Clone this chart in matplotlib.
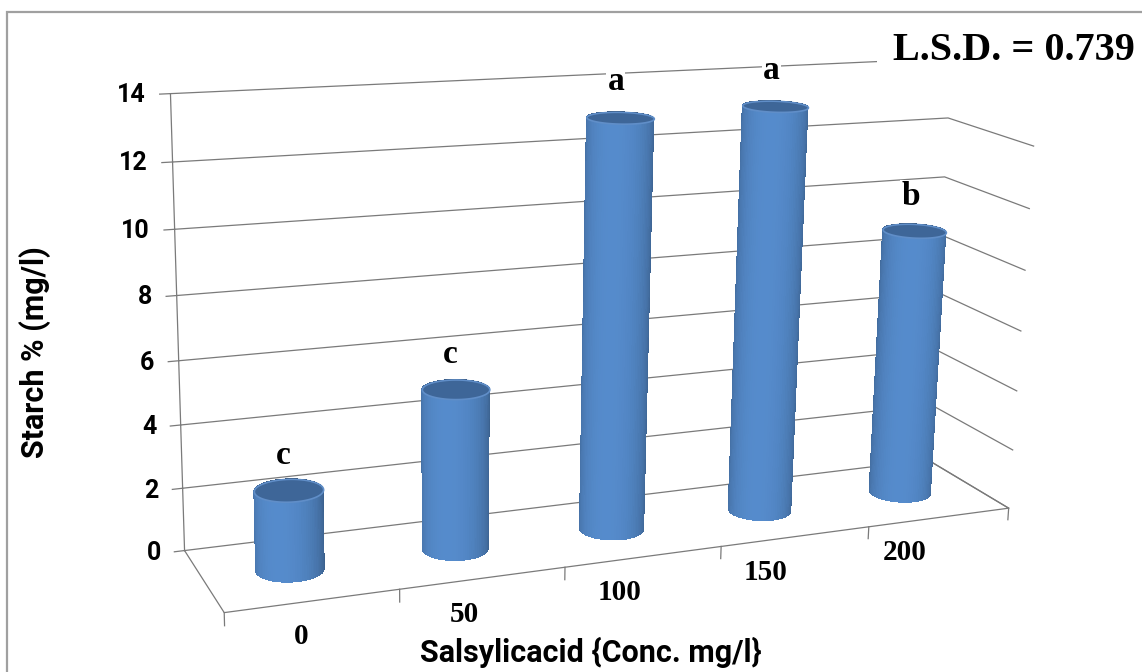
import numpy as np
import matplotlib
matplotlib.use("Agg")
import matplotlib.pyplot as plt
from matplotlib.patches import Rectangle
from mpl_toolkits.mplot3d.art3d import Poly3DCollection

# ---- data -------------------------------------------------------------
concentrations = ["0", "50", "100", "150", "200"]
starch = [2.5, 5.1, 13.1, 13.2, 8.9]
letters = ["c", "c", "a", "a", "b"]
y_ticks = [0, 2, 4, 6, 8, 10, 12, 14]
lsd_label = "L.S.D. = 0.739"
y_title = "Starch % (mg/l)"
x_title = "Salsylicacid {Conc. mg/l}"

# ---- figure -----------------------------------------------------------
W, H = 1142, 672
fig = plt.figure(figsize=(W / 100, H / 100), dpi=100)
fig.patch.set_facecolor("white")

# outer frame of the chart area
fig.add_artist(Rectangle((7 / W, -0.1), 1.2, 1 - 12 / H + 0.1,
                         transform=fig.transFigure, fill=False,
                         edgecolor="#a0a0a0", linewidth=1.6))

# square 3D axes, placed so that the projection centre sits at (cx, cy) px
S = 1000
cx, cy = 616, 358
left = (cx - 0.5135 * S) / W
bottom = (cy - 0.5135 * S) / H
ax = fig.add_axes([left, bottom, S / W, S / H], projection="3d")
ax.set_axis_off()
ax.computed_zorder = False

n_cat = len(concentrations)
xmin, xmax = -0.5, n_cat - 0.5
depth = 1.0
ymin, ymax = 0.0, depth
zmax = y_ticks[-1]
ax.set_xlim(xmin, xmax)
ax.set_ylim(ymin, ymax)
ax.set_zlim(0, zmax)
ax.set_box_aspect((xmax - xmin, depth, 2.70), zoom=0.946)
ax.view_init(elev=15, azim=-113, roll=-1.2)
ax.set_proj_type("persp", focal_length=0.42)

grid_c = "#7a7a7a"
lw = 0.9
sans = "Roboto"
serif = "Liberation Serif"

# gridlines on back wall and right side wall
for t in y_ticks:
    ax.plot([xmin, xmax, xmax], [ymax, ymax, ymin], [t, t, t],
            color=grid_c, lw=lw, zorder=1)
    # small tick to the left of the value axis
    ax.plot([xmin - 0.06, xmin], [ymax, ymax], [t, t],
            color=grid_c, lw=lw, zorder=1)
    ax.text(xmin - 0.14, ymax, t, f"{t}", ha="right", va="center",
            fontsize=18, fontweight="bold", family=sans, zorder=6)

# value axis line (back-left corner) and floor outline
ax.plot([xmin, xmin], [ymax, ymax], [0, zmax], color=grid_c, lw=lw, zorder=1)
ax.plot([xmin, xmin, xmax, xmax], [ymax, ymin, ymin, ymax], [0, 0, 0, 0],
        color=grid_c, lw=lw, zorder=1)
# category tick marks along the front edge
for k in range(n_cat + 1):
    xb = xmin + k
    ax.plot([xb, xb], [ymin, ymin], [0, -0.4], color=grid_c, lw=lw, zorder=1)

# ---- cylinders --------------------------------------------------------
base = np.array([79, 129, 189]) / 255.0
cap_color = np.array([62, 102, 152]) / 255.0
rim_color = np.array([96, 142, 200]) / 255.0
radius = 0.195
yc = depth / 2
light = np.deg2rad(-122)
nth = 90
theta = np.linspace(0, 2 * np.pi, nth)

for k, val in enumerate(starch):
    TH, Z = np.meshgrid(theta, [0.0, val])
    X = k + radius * np.cos(TH)
    Y = yc + radius * np.sin(TH)
    mid = theta + np.pi / nth
    shade = 0.80 + 0.28 * np.cos(mid - light)
    cols = np.clip(base[None, :] * shade[:, None], 0, 1)
    fc = np.empty(TH.shape + (4,))
    fc[..., :3] = cols[None, :, :]
    fc[..., 3] = 1.0
    ax.plot_surface(X, Y, Z, facecolors=fc, shade=False, linewidth=0,
                    antialiased=False, rstride=1, cstride=1, zorder=3)
    top = list(zip(k + radius * np.cos(theta), yc + radius * np.sin(theta),
                   np.full(nth, val)))
    cap = Poly3DCollection([top], facecolor=cap_color, edgecolor=rim_color,
                           linewidth=1.2, zorder=4)
    ax.add_collection3d(cap)
    # significance letter above each cylinder
    ax.text(k - 0.03, yc, val + 0.62, letters[k], ha="center", va="bottom",
            fontsize=24, fontweight="bold", family=serif,
            zorder=7, bbox=dict(facecolor="white", edgecolor="none", pad=1))
    # category label below the floor
    ax.text(k + 0.06, yc, -2.2, concentrations[k], ha="center",
            va="center", fontsize=21, fontweight="bold",
            family=serif, zorder=6)

# ---- titles and annotation -------------------------------------------
fig.text(35 / W, 1 - 352 / H, y_title, rotation=90, ha="center", va="center",
         fontsize=22, fontweight="bold", family=sans)
fig.text(591 / W, 1 - 652 / H, x_title, ha="center", va="center",
         fontsize=22, fontweight="bold", family=sans)
fig.text(1135 / W, 1 - 50 / H, lsd_label, ha="right", va="center",
         fontsize=29, fontweight="bold", family=serif,
         bbox=dict(facecolor="white", edgecolor="none", pad=12), zorder=10)

fig.savefig("out.png", dpi=100)
